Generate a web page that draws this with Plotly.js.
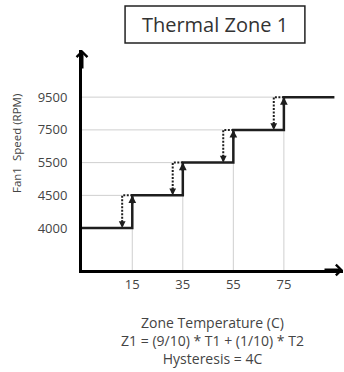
<!DOCTYPE html>
<html>
<head>
<meta charset="utf-8">
<script src="https://cdn.plot.ly/plotly-3.0.1.min.js"></script>
<style>html,body{margin:0;padding:0;background:#fff}#chart{width:344px;height:372px}</style>
</head>
<body>
<div id="chart"></div>
<script>
// ---- data ----
var speedLevels = ['4000', '4500', '5500', '7500', '9500'];   // fan speed levels (RPM)
var stepTemps = [15, 35, 55, 75];                              // temperatures where speed steps up (C)
var stepSpeeds = ['4500', '5500', '7500', '9500'];             // speed after each step
var startSpeed = '4000';
var endTemp = 95;
var hysteresis = 4;                                            // C
var xTickVals = [15, 35, 55, 75];

// axis ranges (layout)
var xRange = [-4.9, 98.4];
var yRange = [-1.28, 5.44];

var ink = '#1e1e1e';
var grid = '#cfcfcf';
var traces = [];
var annotations = [];

// light drop lines (from axes to the step curve)
for (var i = 0; i < stepTemps.length; i++) {
  var lower = i === 0 ? startSpeed : stepSpeeds[i - 1];
  var li = speedLevels.indexOf(lower);
  var ui = speedLevels.indexOf(stepSpeeds[i]);
  traces.push({x: [stepTemps[i], stepTemps[i]], y: [yRange[0], li], mode: 'lines',
    line: {color: grid, width: 1}, hoverinfo: 'skip', showlegend: false});
  traces.push({x: [xRange[0], stepTemps[i] - hysteresis], y: [ui, ui], mode: 'lines',
    line: {color: grid, width: 1}, hoverinfo: 'skip', showlegend: false});
}

// dotted hysteresis (step-down) paths
for (var i = 0; i < stepTemps.length; i++) {
  var lower = i === 0 ? startSpeed : stepSpeeds[i - 1];
  var li = speedLevels.indexOf(lower);
  var ui = speedLevels.indexOf(stepSpeeds[i]);
  var xd = stepTemps[i] - hysteresis;
  traces.push({x: [stepTemps[i], xd, xd], y: [ui, ui, li], mode: 'lines',
    line: {color: ink, width: 2, dash: '2px,1.5px'}, hoverinfo: 'skip', showlegend: false});
  annotations.push({x: xd, y: li, xref: 'x', yref: 'y', ax: 0, ay: -9, text: '',
    showarrow: true, arrowhead: 2, arrowsize: 0.75, arrowwidth: 1.8, arrowcolor: ink, standoff: 0});
  annotations.push({x: stepTemps[i], y: ui, xref: 'x', yref: 'y', ax: 0, ay: 10, text: '',
    showarrow: true, arrowhead: 2, arrowsize: 0.7, arrowwidth: 2.2, arrowcolor: ink, standoff: 0});
}

// main step curve
var sx = [xRange[0]].concat(stepTemps).concat([endTemp]);
var sy = [startSpeed].concat(stepSpeeds).concat([stepSpeeds[stepSpeeds.length - 1]]);
traces.push({x: sx, y: sy.map(function (s) { return speedLevels.indexOf(s); }), mode: 'lines',
  line: {color: ink, width: 2.5, shape: 'hv'}, hoverinfo: 'skip', showlegend: false});

// axis arrowheads
annotations.push({x: 0, y: 1, xref: 'paper', yref: 'paper', ax: 0, ay: 20, text: '',
  showarrow: true, arrowhead: 4, arrowsize: 0.7, arrowwidth: 3, arrowcolor: '#000', standoff: 0});
annotations.push({x: 1, y: 0, xref: 'paper', yref: 'paper', ax: -20, ay: 0, text: '',
  showarrow: true, arrowhead: 4, arrowsize: 0.7, arrowwidth: 3, arrowcolor: '#000', standoff: 0});

// y-axis title (placed as rotated text to match the reference position)
annotations.push({x: -0.253, y: 0.577, xref: 'paper', yref: 'paper', xanchor: 'center', yanchor: 'middle',
  text: 'Fan1\u00a0\u00a0Speed (RPM)', textangle: -90, showarrow: false, font: {size: 11.5, color: '#444'}});

var layout = {
  width: 344, height: 372,
  margin: {l: 82, r: 1, t: 50, b: 102},
  paper_bgcolor: '#fff', plot_bgcolor: '#fff',
  font: {family: 'Open Sans, sans-serif', color: '#444'},
  title: {text: 'Thermal Zone 1', font: {size: 20, color: '#333'},
    x: 0.625, xref: 'container', xanchor: 'center', y: 0.933, yref: 'container', yanchor: 'middle'},
  shapes: [{type: 'rect', xref: 'paper', yref: 'paper', x0: 0.165, x1: 0.854, y0: 1.032, y1: 1.2,
    line: {color: '#222', width: 1.5}, fillcolor: 'rgba(0,0,0,0)'}],
  xaxis: {range: xRange, tickvals: xTickVals, ticktext: xTickVals.map(String),
    showgrid: false, zeroline: false, showline: true, linecolor: '#000', linewidth: 3,
    ticks: '', ticklabelstandoff: 0, tickfont: {size: 13, color: '#444'},
    title: {text: 'Zone Temperature (C)<br>Z1 = (9/10) * T1 + (1/10) * T2<br>Hysteresis = 4C',
      font: {size: 14, color: '#444'}, standoff: 27}},
  yaxis: {range: yRange, tickvals: speedLevels.map(function (s, i) { return i; }), ticktext: speedLevels,
    showgrid: false, zeroline: false, showline: true, linecolor: '#000', linewidth: 3,
    ticks: '', ticklabelstandoff: 9, tickfont: {size: 13, color: '#444'}},
  annotations: annotations
};

Plotly.newPlot('chart', traces, layout, {displayModeBar: false, staticPlot: true});
</script>
</body>
</html>
